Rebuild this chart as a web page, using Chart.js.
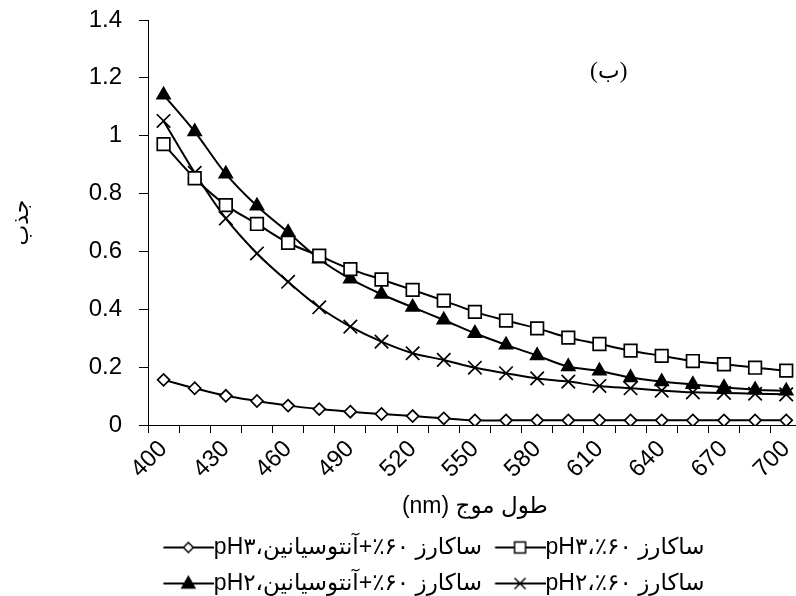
<!DOCTYPE html>
<html>
<head>
<meta charset="utf-8">
<script src="https://cdn.jsdelivr.net/npm/chart.js@4/dist/chart.umd.min.js"></script>
<style>
  html, body { margin: 0; padding: 0; overflow: hidden; background: #fff; }
  #wrap { width: 813px; height: 605px; }
</style>
</head>
<body>
<div id="wrap"><canvas id="absChart" width="813" height="605" dir="rtl"></canvas></div>
<script>
// طول موج (nm) - هر ۱۵ نانومتر یک نقطه
const wavelengths = ['400', '415', '430', '445', '460', '475', '490', '505', '520', '535', '550',
                     '565', '580', '595', '610', '625', '640', '655', '670', '685', '700'];
const shownTicks = ['400', '430', '460', '490', '520', '550', '580', '610', '640', '670', '700'];
const yTicks = ['0', '0.2', '0.4', '0.6', '0.8', '1', '1.2', '1.4'];

// جذب
const sucAnthoPH3 = [0.156, 0.127, 0.101, 0.083, 0.067, 0.055, 0.046, 0.038, 0.031, 0.023, 0.016,
                     0.016, 0.016, 0.016, 0.016, 0.016, 0.016, 0.016, 0.016, 0.016, 0.016];
const sucrosePH3 = [0.971, 0.853, 0.760, 0.695, 0.630, 0.585, 0.539, 0.503, 0.467, 0.430, 0.391,
                    0.361, 0.334, 0.302, 0.280, 0.257, 0.239, 0.221, 0.210, 0.198, 0.188];
const sucAnthoPH2 = [1.141, 1.014, 0.868, 0.757, 0.666, 0.574, 0.505, 0.452, 0.407, 0.363, 0.317,
                     0.277, 0.240, 0.202, 0.187, 0.164, 0.150, 0.140, 0.130, 0.122, 0.118];
const sucrosePH2 = [1.051, 0.872, 0.714, 0.593, 0.495, 0.407, 0.340, 0.288, 0.248, 0.225, 0.198,
                    0.179, 0.161, 0.150, 0.135, 0.127, 0.119, 0.113, 0.111, 0.108, 0.106];

// ٪۶۰ داخل جداساز چپ‌به‌راست تا علامت درصد سمت چپ عدد بماند
const pct = '\u2066٪۶۰\u2069';
const seriesNames = [
  'ساکارز ' + pct + '+آنتوسیانین،pH۳',
  'ساکارز ' + pct + '،pH۳',
  'ساکارز ' + pct + '+آنتوسیانین،pH۲',
  'ساکارز ' + pct + '،pH۲'
];

const sansFont = "'Liberation Sans', Arial, 'DejaVu Sans', sans-serif";

// نماد راهنما: خط با نشانگر در وسط
function legendIcon(style) {
  const c = document.createElement('canvas');
  c.width = 62; c.height = 24;
  const g = c.getContext('2d');
  g.strokeStyle = '#000';
  g.lineWidth = 2;
  g.beginPath(); g.moveTo(11.5, 12); g.lineTo(62, 12); g.stroke();
  const cx = 36.5, cy = 12;
  g.lineWidth = 1.5;
  g.fillStyle = '#fff';
  g.beginPath();
  if (style === 'rectRot') {
    g.moveTo(cx - 5, cy); g.lineTo(cx, cy - 5); g.lineTo(cx + 5, cy); g.lineTo(cx, cy + 5); g.closePath();
    g.fill(); g.stroke();
  } else if (style === 'rect') {
    g.rect(cx - 5.5, cy - 5.5, 11, 11);
    g.fill(); g.stroke();
  } else if (style === 'triangle') {
    g.fillStyle = '#000';
    g.moveTo(cx, cy - 7); g.lineTo(cx + 6.5, cy + 4.5); g.lineTo(cx - 6.5, cy + 4.5); g.closePath();
    g.fill(); g.stroke();
  } else {
    g.moveTo(cx - 5.5, cy - 5.5); g.lineTo(cx + 5.5, cy + 5.5);
    g.moveTo(cx + 5.5, cy - 5.5); g.lineTo(cx - 5.5, cy + 5.5);
    g.stroke();
  }
  return c;
}

function series(label, data, style, radius, fill) {
  return {
    label: label,
    data: data,
    borderColor: '#000',
    borderWidth: 2,
    tension: 0.35,
    pointStyle: style,
    pointRadius: radius,
    pointHoverRadius: radius,
    pointBackgroundColor: fill,
    pointBorderColor: '#000',
    pointBorderWidth: 1.7,
    fill: false
  };
}

// برچسب (ب) روی نمودار
const panelLabel = {
  id: 'panelLabel',
  afterDatasetsDraw(chart) {
    const { ctx, scales: { x, y } } = chart;
    ctx.save();
    ctx.font = "23px 'Liberation Serif', 'DejaVu Serif', serif";
    ctx.fillStyle = '#000';
    ctx.textAlign = 'center';
    ctx.textBaseline = 'middle';
    ctx.fillText('(ب)', x.getPixelForValue(14.3), y.getPixelForValue(1.22));
    ctx.restore();
  }
};

Chart.defaults.color = '#000';
Chart.defaults.font.family = sansFont;

const ctx = document.getElementById('absChart').getContext('2d');
new Chart(ctx, {
  type: 'line',
  data: {
    labels: wavelengths,
    datasets: [
      series(seriesNames[0], sucAnthoPH3, 'rectRot', 6, '#fff'),
      series(seriesNames[1], sucrosePH3, 'rect', 8.9, '#fff'),
      series(seriesNames[2], sucAnthoPH2, 'triangle', 7.5, '#000'),
      series(seriesNames[3], sucrosePH2, 'crossRot', 9.5, '#000')
    ]
  },
  options: {
    responsive: false,
    animation: false,
    layout: { padding: { left: 65, right: 10, top: 20, bottom: 0 } },
    plugins: {
      tooltip: { enabled: false },
      legend: {
        position: 'bottom',
        textDirection: 'rtl',
        labels: {
          font: { size: 23, family: sansFont },
          color: '#000',
          padding: 13,
          usePointStyle: true,
          pointStyleWidth: 39,
          textAlign: 'left',
          generateLabels(chart) {
            return chart.data.datasets.map((ds, i) => ({
              text: ds.label,
              pointStyle: legendIcon(ds.pointStyle),
              fillStyle: '#fff',
              strokeStyle: '#000',
              lineWidth: 0,
              hidden: false,
              fontColor: '#000',
              datasetIndex: i
            }));
          }
        }
      }
    },
    scales: {
      x: {
        type: 'category',
        offset: true,
        afterFit(scale) { scale.height = 98; },
        grid: { display: true, drawOnChartArea: false, drawTicks: true, tickLength: 8, offset: true, color: '#000' },
        border: { display: true, color: '#000', width: 1 },
        ticks: {
          autoSkip: false,
          minRotation: 45,
          maxRotation: 45,
          padding: 2,
          font: { size: 24 },
          callback(val, i) {
            return shownTicks.includes(wavelengths[i]) ? wavelengths[i] : '';
          }
        },
        title: {
          display: true,
          text: 'طول موج (nm)',
          font: { size: 23 },
          padding: { top: 0, bottom: 3 }
        }
      },
      y: {
        min: 0,
        max: 1.4,
        afterFit(scale) {
          scale.width = 83;
          scale.paddingTop = 12;
          scale.paddingBottom = 12;
        },
        grid: { display: true, drawOnChartArea: false, drawTicks: true, tickLength: 9, color: '#000' },
        border: { display: true, color: '#000', width: 1 },
        ticks: {
          stepSize: 0.2,
          padding: 17,
          font: { size: 24 },
          callback(val, i) { return yTicks[i]; }
        },
        title: {
          display: true,
          text: 'جذب',
          font: { size: 22 },
          padding: { top: -56, bottom: 0 }
        }
      }
    }
  },
  plugins: [panelLabel]
});
</script>
</body>
</html>
